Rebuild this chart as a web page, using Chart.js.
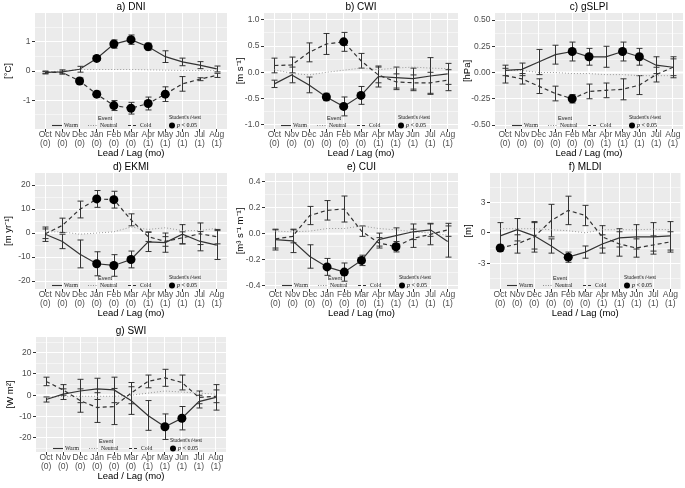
<!DOCTYPE html>
<html><head><meta charset="utf-8">
<style>
html,body{margin:0;padding:0;background:#fff;}
#wrap{position:relative;width:685px;height:488px;overflow:hidden;}
canvas{position:absolute;left:0;top:0;}
</style>
<script src="https://cdn.jsdelivr.net/npm/chart.js@4.4.1/dist/chart.umd.min.js"></script>
</head><body><div id="wrap"></div>
<script>
const months = ['Oct','Nov','Dec','Jan','Feb','Mar','Apr','May','Jun','Jul','Aug'];
const leadYears = ['(0)','(0)','(0)','(0)','(0)','(0)','(1)','(1)','(1)','(1)','(1)'];

// a) DNI
const dniWarm = [-0.05,-0.03,0.06,0.43,0.92,1.07,0.83,0.49,0.31,0.2,0.07];
const dniWarmErr = [0.05,0.07,0.1,0.06,0.14,0.16,0.12,0.2,0.13,0.12,0.1];
const dniCold = [-0.05,-0.05,-0.34,-0.79,-1.18,-1.27,-1.11,-0.79,-0.44,-0.28,-0.15];
const dniColdErr = [0.03,0.05,0.1,0.1,0.17,0.2,0.22,0.25,0.25,0.05,0.07];
const dniNeutral = [-0.03,0.0,0.05,0.05,0.05,0.05,0.04,0.03,0.02,0.02,0.01];
const dniWarmSig = [0,0,0,1,1,1,1,0,0,0,0];
const dniColdSig = [0,0,1,1,1,1,1,1,0,0,0];
const dniTicks = ['-1','0','1'];
const dniMinor = [-1.5,-0.5,0.5,1.5];

// b) CWI
const cwiWarm = [-0.22,-0.05,-0.24,-0.47,-0.65,-0.44,-0.08,-0.1,-0.12,-0.07,-0.03];
const cwiWarmErr = [0.07,0.15,0.15,0.07,0.18,0.17,0.2,0.2,0.2,0.35,0.2];
const cwiCold = [0.13,0.14,0.38,0.54,0.58,0.22,-0.05,-0.18,-0.2,-0.2,-0.15];
const cwiColdErr = [0.14,0.15,0.18,0.2,0.18,0.14,0.15,0.15,0.15,0.2,0.2];
const cwiNeutral = [0.05,-0.02,-0.05,0.0,0.04,0.08,0.05,0.08,0.1,0.08,0.07];
const cwiWarmSig = [0,0,0,1,1,1,0,0,0,0,0];
const cwiColdSig = [0,0,0,0,1,0,0,0,0,0,0];
const cwiTicks = ['-1.0','-0.5','0.0','0.5','1.0'];
const cwiMinor = [-0.75,-0.25,0.25,0.75];

// c) gSLPI
const gslpiWarm = [0.02,0.03,0.1,0.17,0.2,0.15,0.15,0.2,0.15,0.07,0.05];
const gslpiWarmErr = [0.05,0.06,0.12,0.09,0.09,0.08,0.1,0.09,0.08,0.08,0.1];
const gslpiCold = [-0.03,-0.06,-0.13,-0.2,-0.25,-0.18,-0.17,-0.16,-0.12,-0.02,0.05];
const gslpiColdErr = [0.07,0.05,0.07,0.07,0.04,0.07,0.07,0.1,0.09,0.07,0.08];
const gslpiNeutral = [0.02,0.02,0.0,0.0,-0.01,-0.01,-0.02,-0.02,-0.03,-0.03,-0.03];
const gslpiWarmSig = [0,0,0,0,1,1,0,1,1,0,0];
const gslpiColdSig = [0,0,0,0,1,0,0,0,0,0,0];
const gslpiTicks = ['-0.50','-0.25','0.00','0.25','0.50'];
const gslpiMinor = [-0.375,-0.125,0.125,0.375];

// d) EKMI
const ekmiWarm = [-0.5,-3.5,-8.7,-12.8,-13.5,-11,-3.7,-4,-0.5,-3.4,-5];
const ekmiWarmErr = [3,3,5.8,5,4.5,3.5,4,4,4,4,6];
const ekmiCold = [-0.3,3.2,9.8,14.2,13.9,5.5,-1.5,-3.5,-2,-0.3,-1.5];
const ekmiColdErr = [2,3,3.5,3.5,3.5,2.5,2,2,2.5,4.5,3];
const ekmiNeutral = [0.5,0.5,-0.5,0,0.5,2.5,1.5,2.2,1,1,2];
const ekmiWarmSig = [0,0,0,1,1,1,0,0,0,0,0];
const ekmiColdSig = [0,0,0,1,1,0,0,0,0,0,0];
const ekmiTicks = ['-20','-10','0','10','20'];
const ekmiMinor = [-15,-5,5,15];

// e) CUI
const cuiWarm = [-0.045,-0.055,-0.175,-0.255,-0.295,-0.205,-0.045,-0.015,0.015,0.03,-0.06];
const cuiWarmErr = [0.08,0.09,0.09,0.065,0.07,0.04,0.05,0.06,0.06,0.05,0.12];
const cuiCold = [-0.04,-0.02,0.14,0.18,0.19,0.02,-0.07,-0.1,-0.035,-0.005,0.03];
const cuiColdErr = [0.07,0.05,0.07,0.075,0.1,0.04,0.04,0.04,0.07,0.08,0.05];
const cuiNeutral = [0.02,0.015,0.02,0.04,0.04,0.06,0.04,0.03,0.015,0.005,-0.01];
const cuiWarmSig = [0,0,0,1,1,1,0,0,0,0,0];
const cuiColdSig = [0,0,0,0,0,0,0,1,0,0,0];
const cuiTicks = ['-0.4','-0.2','0.0','0.2','0.4'];
const cuiMinor = [-0.3,-0.1,0.1,0.3];

// f) MLDI
const mldiWarm = [-0.3,0.3,-0.3,-1.3,-2.4,-1.9,-1.1,-0.5,-0.4,-0.4,-0.3];
const mldiWarmErr = [1.3,1.1,1.3,0.7,0.5,0.6,0.9,0.9,1.2,1.4,1.4];
const mldiCold = [-1.5,-1.1,-0.4,1.2,2.2,1.7,-0.4,-1.1,-1.5,-1.2,-0.9];
const mldiColdErr = [0.3,0.9,1.5,1.6,1.4,1.0,1.1,1.2,0.9,0.9,1.0];
const mldiNeutral = [0.4,0.4,0.4,0.3,0.2,0.0,0.3,0.3,0.3,0.35,0.3];
const mldiWarmSig = [0,0,0,0,1,0,0,0,0,0,0];
const mldiColdSig = [1,0,0,0,0,0,0,0,0,0,0];
const mldiTicks = ['-3','0','3'];
const mldiMinor = [-4.5,-1.5,1.5,4.5];

// g) SWI
const swiWarm = [-2,0.5,2,3,2.5,-2.5,-9.5,-14.8,-10.8,-3,-1];
const swiWarmErr = [1.2,2.5,5.5,5,6,6.5,7,6,5.5,3,6];
const swiCold = [6.5,2.5,-2.5,-5.8,-5.3,1,6.5,8.2,6,-1,-0.5];
const swiColdErr = [2,2.5,5.5,7,8.5,5,3,4,3.5,3,3];
const swiNeutral = [-1,-0.5,-0.5,-0.5,-0.5,0,1,2,1.5,1,0.5];
const swiWarmSig = [0,0,0,0,0,0,0,1,1,0,0];
const swiColdSig = [0,0,0,0,0,0,0,0,0,0,0];
const swiTicks = ['-20','-10','0','10','20'];
const swiMinor = [-25,-15,-5,5,15,25];

const panels = [
  {id:'a', title:'a) DNI', unit:'[°C]', warm:dniWarm, warmErr:dniWarmErr, cold:dniCold, coldErr:dniColdErr, neutral:dniNeutral, warmSig:dniWarmSig, coldSig:dniColdSig, ticks:dniTicks, minor:dniMinor, yMin:-1.98, yMax:1.98, box:[35,13,227,129], yTitleX:8},
  {id:'b', title:'b) CWI', unit:'[m s\u207B\u00B9]', warm:cwiWarm, warmErr:cwiWarmErr, cold:cwiCold, coldErr:cwiColdErr, neutral:cwiNeutral, warmSig:cwiWarmSig, coldSig:cwiColdSig, ticks:cwiTicks, minor:cwiMinor, yMin:-1.08, yMax:1.13, box:[264,13,458,129], yTitleX:240},
  {id:'c', title:'c) gSLPI', unit:'[hPa]', warm:gslpiWarm, warmErr:gslpiWarmErr, cold:gslpiCold, coldErr:gslpiColdErr, neutral:gslpiNeutral, warmSig:gslpiWarmSig, coldSig:gslpiColdSig, ticks:gslpiTicks, minor:gslpiMinor, yMin:-0.538, yMax:0.567, box:[495,13,683,129], yTitleX:467},
  {id:'d', title:'d) EKMI', unit:'[m yr\u207B\u00B9]', warm:ekmiWarm, warmErr:ekmiWarmErr, cold:ekmiCold, coldErr:ekmiColdErr, neutral:ekmiNeutral, warmSig:ekmiWarmSig, coldSig:ekmiColdSig, ticks:ekmiTicks, minor:ekmiMinor, yMin:-23.3, yMax:25, box:[35,173,227,289], yTitleX:8},
  {id:'e', title:'e) CUI', unit:'[m\u00B3 s\u207B\u00B9 m\u207B\u00B9]', warm:cuiWarm, warmErr:cuiWarmErr, cold:cuiCold, coldErr:cuiColdErr, neutral:cuiNeutral, warmSig:cuiWarmSig, coldSig:cuiColdSig, ticks:cuiTicks, minor:cuiMinor, yMin:-0.425, yMax:0.467, box:[265,173,458,289], yTitleX:240},
  {id:'f', title:'f) MLDI', unit:'[m]', warm:mldiWarm, warmErr:mldiWarmErr, cold:mldiCold, coldErr:mldiColdErr, neutral:mldiNeutral, warmSig:mldiWarmSig, coldSig:mldiColdSig, ticks:mldiTicks, minor:mldiMinor, yMin:-5.53, yMax:5.88, box:[490,173,683,289], yTitleX:468},
  {id:'g', title:'g) SWI', unit:'[W m\u00B2]', warm:swiWarm, warmErr:swiWarmErr, cold:swiCold, coldErr:swiColdErr, neutral:swiNeutral, warmSig:swiWarmSig, coldSig:swiColdSig, ticks:swiTicks, minor:swiMinor, yMin:-26.7, yMax:27.4, box:[36,337,226,452], yTitleX:10}
];

const SANS = '"Liberation Sans", Arial, Helvetica, sans-serif';
const SERIF = '"Liberation Serif", "Times New Roman", serif';
const LINE = '#333333';

function seg(ctx, x1, x2, y, dash, color, w){
  ctx.save(); ctx.strokeStyle = color; ctx.lineWidth = w; ctx.setLineDash(dash);
  ctx.beginPath(); ctx.moveTo(x1, y); ctx.lineTo(x2, y); ctx.stroke(); ctx.restore();
}

function deco(p){
  return {
    id: 'deco' + p.id,
    beforeDraw(chart){
      const {ctx, chartArea: a} = chart;
      ctx.save(); ctx.fillStyle = '#EBEBEB';
      ctx.fillRect(a.left, a.top, a.right - a.left, a.bottom - a.top); ctx.restore();
    },
    beforeDatasetsDraw(chart){
      const {ctx, chartArea: a, scales: {x, y}} = chart;
      ctx.save();
      ctx.strokeStyle = '#fff'; ctx.lineWidth = 2;
      const y0 = y.getPixelForValue(0);
      ctx.beginPath(); ctx.moveTo(a.left, y0); ctx.lineTo(a.right, y0); ctx.stroke();
      const xm = x.getPixelForValue(5);
      ctx.beginPath(); ctx.moveTo(xm, a.top); ctx.lineTo(xm, a.bottom); ctx.stroke();
      ctx.strokeStyle = LINE; ctx.lineWidth = 1;
      [[p.warm, p.warmErr], [p.cold, p.coldErr]].forEach(([vals, errs]) => {
        vals.forEach((v, i) => {
          const px = Math.round(x.getPixelForValue(i)) + 0.5;
          const t = y.getPixelForValue(v + errs[i]);
          const b = y.getPixelForValue(v - errs[i]);
          ctx.beginPath();
          ctx.moveTo(px, t); ctx.lineTo(px, b);
          ctx.moveTo(px - 3, t); ctx.lineTo(px + 3, t);
          ctx.moveTo(px - 3, b); ctx.lineTo(px + 3, b);
          ctx.stroke();
        });
      });
      ctx.restore();
    },
    afterDraw(chart){
      const {ctx, chartArea: a} = chart;
      const L = a.left, B = a.bottom;
      ctx.save();
      // title
      ctx.fillStyle = '#000'; ctx.textAlign = 'center'; ctx.textBaseline = 'middle';
      ctx.font = '10px ' + SANS;
      ctx.fillText(p.title, (a.left + a.right) / 2, a.top - 6);
      // legend
      const yT = B - 11, yR = B - 3.5;
      ctx.fillStyle = '#1a1a1a';
      ctx.font = '5.5px ' + SANS;
      ctx.fillText('Event', L + 70, yT);
      // Student's t-test
      ctx.font = '4.8px ' + SANS;
      const s1 = "Student's ", s3 = '-test';
      const w1 = ctx.measureText(s1).width, w3 = ctx.measureText(s3).width;
      ctx.font = 'italic 4.8px ' + SANS;
      const w2 = ctx.measureText('t').width;
      let sx = L + 150 - (w1 + w2 + w3) / 2;
      ctx.textAlign = 'left';
      ctx.font = '4.8px ' + SANS; ctx.fillText(s1, sx, yT);
      ctx.font = 'italic 4.8px ' + SANS; ctx.fillText('t', sx + w1, yT);
      ctx.font = '4.8px ' + SANS; ctx.fillText(s3, sx + w1 + w2, yT);
      // items
      seg(ctx, L + 17, L + 27, yR, [], LINE, 1.1);
      seg(ctx, L + 53, L + 63, yR, [1, 1.5], '#8f8f8f', 1);
      seg(ctx, L + 93, L + 103, yR, [3, 2], LINE, 1.1);
      ctx.fillStyle = '#1a1a1a';
      ctx.font = '5.8px ' + SERIF;
      ctx.fillText('Warm', L + 29, yR);
      ctx.fillText('Neutral', L + 65, yR);
      ctx.fillText('Cold', L + 105, yR);
      ctx.fillStyle = '#000';
      ctx.beginPath(); ctx.arc(L + 137, yR, 3, 0, Math.PI * 2); ctx.fill();
      ctx.font = 'italic 6px ' + SERIF;
      ctx.fillText('p', L + 142, yR);
      const pw = ctx.measureText('p ').width;
      ctx.font = '6px ' + SERIF;
      ctx.fillText('< 0.05', L + 142 + pw, yR);
      ctx.restore();
    }
  };
}

function makeChart(p){
  const cv = document.createElement('canvas');
  cv.width = 685; cv.height = 488;
  cv.style.width = '685px'; cv.style.height = '488px';
  document.getElementById('wrap').appendChild(cv);
  const [L, T, R, B] = p.box;
  const tickFont = {family: SANS, size: 8.5, lineHeight: 1.05};
  const titleFont = {family: SANS, size: 9.5, lineHeight: 1.2};
  const yw = L - p.yTitleX + 5.7;
  const xh = 30;
  const majorVals = p.ticks.map(parseFloat);
  const pts = arr => arr.map((v, i) => ({x: i, y: v}));
  const isMajor = v => majorVals.some(m => Math.abs(m - v) < 1e-9);
  new Chart(cv, {
    type: 'line',
    data: {datasets: [
      {label: 'Warm', data: pts(p.warm), borderColor: LINE, borderWidth: 1.2, tension: 0,
       pointRadius: c => p.warmSig[c.dataIndex] ? 4.5 : 0, pointHoverRadius: 0,
       pointBackgroundColor: '#000', pointBorderColor: '#000', pointBorderWidth: 0},
      {label: 'Cold', data: pts(p.cold), borderColor: LINE, borderWidth: 1.2, borderDash: [4, 3], tension: 0,
       pointRadius: c => p.coldSig[c.dataIndex] ? 4.5 : 0, pointHoverRadius: 0,
       pointBackgroundColor: '#000', pointBorderColor: '#000', pointBorderWidth: 0},
      {label: 'Neutral', data: pts(p.neutral), borderColor: '#9a9a9a', borderWidth: 1, borderDash: [1, 2],
       tension: 0, pointRadius: 0, pointHoverRadius: 0}
    ]},
    options: {
      responsive: false, animation: false, devicePixelRatio: 1, events: [],
      layout: {padding: {left: L - yw, top: T, right: 685 - R, bottom: 488 - B - xh}},
      plugins: {legend: {display: false}, tooltip: {enabled: false}, title: {display: false}},
      scales: {
        x: {
          type: 'linear', min: -0.6, max: 10.6,
          afterBuildTicks: s => { s.ticks = months.map((m, i) => ({value: i})); },
          afterFit: s => { s.height = xh; },
          ticks: {autoSkip: false, maxRotation: 0, minRotation: 0, padding: -2, color: '#4d4d4d', font: tickFont,
                  callback: v => [months[v], leadYears[v]]},
          grid: {color: '#ffffff', lineWidth: 1, tickLength: 3, tickColor: '#333', tickWidth: 1},
          border: {display: false},
          title: {display: true, text: 'Lead / Lag (mo)', color: '#000', font: titleFont, padding: 0}
        },
        y: {
          type: 'linear', min: p.yMin, max: p.yMax,
          afterBuildTicks: s => {
            const all = majorVals.map(v => ({value: v, isMajor: true}))
              .concat(p.minor.map(v => ({value: v, isMajor: false})));
            all.sort((a, b) => a.value - b.value);
            s.ticks = all;
          },
          afterFit: s => { s.width = yw; },
          ticks: {autoSkip: false, padding: 1.5, color: '#4d4d4d', font: tickFont,
                  callback: v => { const i = majorVals.findIndex(m => Math.abs(m - v) < 1e-9); return i >= 0 ? p.ticks[i] : ''; }},
          grid: {color: '#ffffff', lineWidth: c => (c.tick && isMajor(c.tick.value)) ? 1 : 0.5,
                 tickLength: 3, tickColor: c => (c.tick && isMajor(c.tick.value)) ? '#333' : 'rgba(0,0,0,0)', tickWidth: 1},
          border: {display: false},
          title: {display: true, text: p.unit, color: '#000', font: titleFont, padding: 0}
        }
      }
    },
    plugins: [deco(p)]
  });
}

panels.forEach(makeChart);
</script>
</body></html>
